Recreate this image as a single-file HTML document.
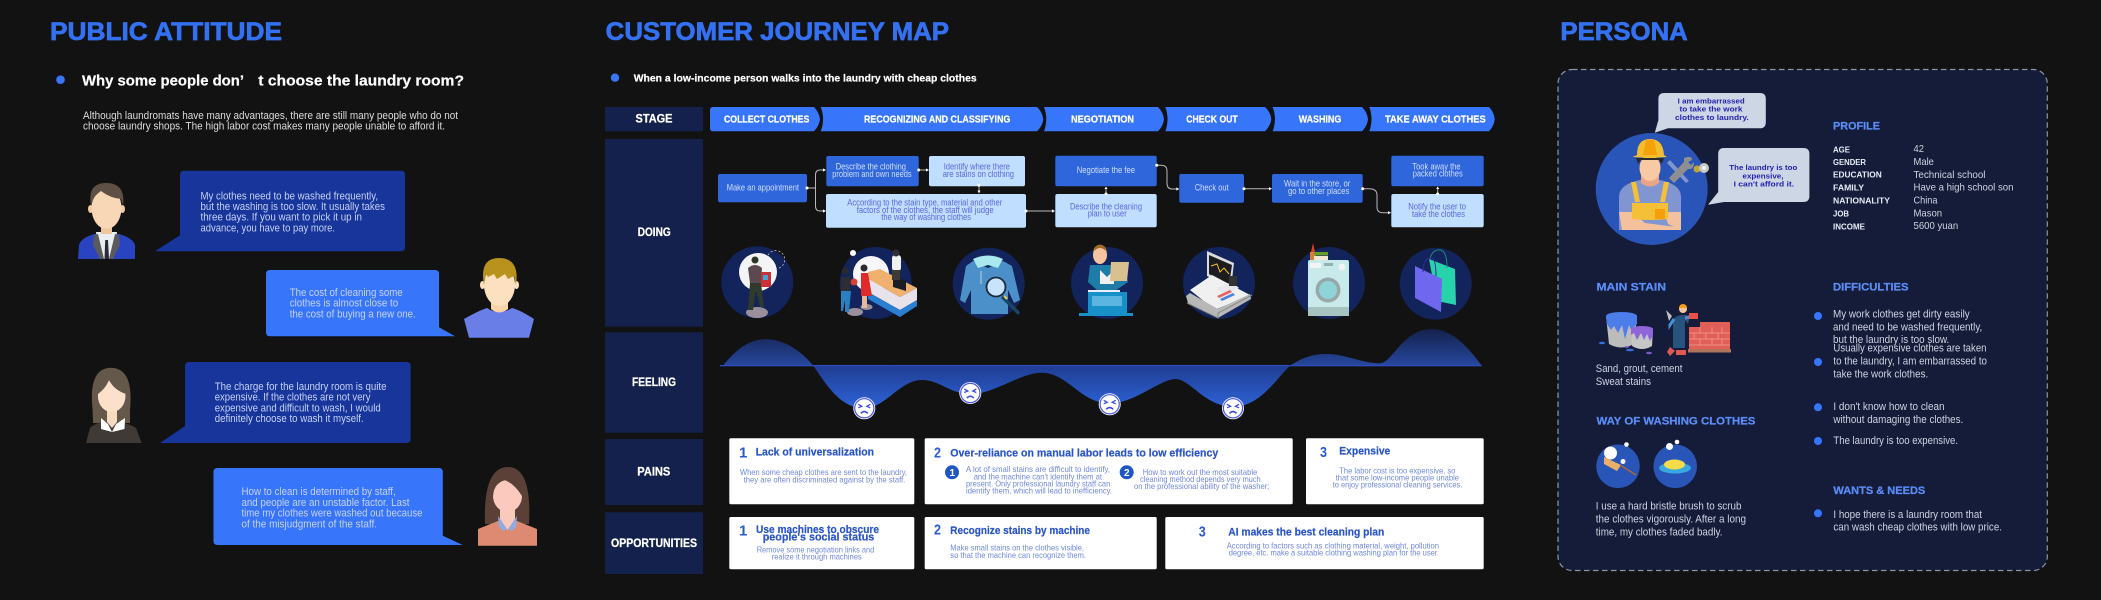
<!DOCTYPE html>
<html><head><meta charset="utf-8"><style>
html,body{margin:0;padding:0;background:#121212;width:2101px;height:600px;overflow:hidden}
svg{display:block}
text{font-family:"Liberation Sans",sans-serif}
.h{font-weight:700;font-size:25px;fill:#3371f2;stroke:#3371f2;stroke-width:.7px}
.hd{font-weight:700;font-size:15px;fill:#fff;stroke:#fff;stroke-width:.2px}
.p{font-size:11px;fill:#dcdcdc}
.bt{font-size:11.2px;fill:#c6d2f4}
.st{font-weight:700;font-size:10.5px;fill:#fff;stroke:#fff;stroke-width:.25px}
.lb{font-weight:700;font-size:11.5px;fill:#fff;stroke:#fff;stroke-width:.25px}
.fw{font-size:8.8px;fill:#d0def9}
.fl{font-size:8.8px;fill:#5c68dc}
.ct{font-weight:700;font-size:11px;fill:#2a55c8;stroke:#2a55c8;stroke-width:.2px}
.num{font-weight:700;font-size:15px;fill:#2a5ad0}
.cb{font-size:8.2px;fill:#7088dc}
.pl{font-weight:700;font-size:11px;fill:#5c8cf6;stroke:#5c8cf6;stroke-width:.25px}
.pk{font-weight:700;font-size:8px;fill:#e8ecf6}
.pv{font-size:10.4px;fill:#cfd3e0}
.pb{font-size:11px;fill:#cfd3e0}
.sb{font-weight:700;font-size:7.6px;fill:#2222b0}
</style></head><body>
<svg width="2101" height="600" viewBox="0 0 2101 600" xmlns="http://www.w3.org/2000/svg">
<defs>
<linearGradient id="gu" x1="0" y1="329" x2="0" y2="366" gradientUnits="userSpaceOnUse"><stop offset="0" stop-color="#14214c"/><stop offset="1" stop-color="#27489f"/></linearGradient>
<linearGradient id="gd" x1="0" y1="366" x2="0" y2="408" gradientUnits="userSpaceOnUse"><stop offset="0" stop-color="#1f3d92"/><stop offset="1" stop-color="#2e63d8"/></linearGradient>
<clipPath id="ca"><rect x="700" y="320" width="800" height="45.7"/></clipPath>
<clipPath id="cb"><rect x="700" y="365.7" width="800" height="60"/></clipPath>
<g id="face">
<circle r="11" fill="#fff"/><circle r="9.6" fill="none" stroke="#4a55e8" stroke-width="1.2"/>
<path d="M-6,-4 L-2.5,-2 L-6,-0.5 M6,-4 L2.5,-2 L6,-0.5" fill="none" stroke="#3d49d8" stroke-width="1.3"/>
<path d="M-3.5,5 Q0,1.5 3.5,5" fill="none" stroke="#3d49d8" stroke-width="1.5"/>
</g>
<path id="ar" d="M-3,-1.6 L0,0 L-3,1.6 Z" fill="#fff"/>
</defs>
<rect width="2101" height="600" fill="#121212"/>

<!-- PUBLIC ATTITUDE -->
<text class="h" x="50" y="40" textLength="232" lengthAdjust="spacingAndGlyphs">PUBLIC ATTITUDE</text>
<circle cx="60.5" cy="79.7" r="4.3" fill="#3775fb"/>
<text class="hd" x="82" y="85.3" textLength="162" lengthAdjust="spacingAndGlyphs">Why some people don’</text>
<text class="hd" x="258.3" y="85.3" textLength="205.7" lengthAdjust="spacingAndGlyphs">t choose the laundry room?</text>
<text class="p" x="83" y="119" textLength="375" lengthAdjust="spacingAndGlyphs">Although laundromats have many advantages, there are still many people who do not</text>
<text class="p" x="83" y="129.5" textLength="362" lengthAdjust="spacingAndGlyphs">choose laundry shops. The high labor cost makes many people unable to afford it.</text>

<path d="M184,170.7 H401 Q405,170.7 405,174.7 V247.3 Q405,251.3 401,251.3 H155 L180,235.3 V174.7 Q180,170.7 184,170.7 Z" fill="#17359a"/>
<text class="bt" x="200.5" y="199.3" textLength="177.5" lengthAdjust="spacingAndGlyphs">My clothes need to be washed frequently,</text>
<text class="bt" x="200.5" y="210" textLength="184.5" lengthAdjust="spacingAndGlyphs">but the washing is too slow. It usually takes</text>
<text class="bt" x="200.5" y="220.7" textLength="161.5" lengthAdjust="spacingAndGlyphs">three days. If you want to pick it up in</text>
<text class="bt" x="200.5" y="231.3" textLength="134.5" lengthAdjust="spacingAndGlyphs">advance, you have to pay more.</text>

<path d="M270,270 H435 Q439,270 439,274 V327.3 L455,336.3 H270 Q266,336.3 266,332.3 V274 Q266,270 270,270 Z" fill="#3775fb"/>
<text class="bt" x="289.7" y="296" textLength="113" lengthAdjust="spacingAndGlyphs">The cost of cleaning some</text>
<text class="bt" x="289.7" y="306.7" textLength="108.5" lengthAdjust="spacingAndGlyphs">clothes is almost close to</text>
<text class="bt" x="289.7" y="317.3" textLength="126" lengthAdjust="spacingAndGlyphs">the cost of buying a new one.</text>

<path d="M189,362 H406.6 Q410.6,362 410.6,366 V439 Q410.6,443 406.6,443 H160 L185,426 V366 Q185,362 189,362 Z" fill="#17359a"/>
<text class="bt" x="214.7" y="390" textLength="171.8" lengthAdjust="spacingAndGlyphs">The charge for the laundry room is quite</text>
<text class="bt" x="214.7" y="400.7" textLength="155.8" lengthAdjust="spacingAndGlyphs">expensive. If the clothes are not very</text>
<text class="bt" x="214.7" y="411.3" textLength="166" lengthAdjust="spacingAndGlyphs">expensive and difficult to wash, I would</text>
<text class="bt" x="214.7" y="422" textLength="149" lengthAdjust="spacingAndGlyphs">definitely choose to wash it myself.</text>

<path d="M217.5,468 H438.8 Q442.8,468 442.8,472 V535.7 L462.7,545 H217.5 Q213.5,545 213.5,541 V472 Q213.5,468 217.5,468 Z" fill="#3775fb"/>
<text class="bt" x="241.5" y="495" textLength="154.2" lengthAdjust="spacingAndGlyphs">How to clean is determined by staff,</text>
<text class="bt" x="241.5" y="506" textLength="168" lengthAdjust="spacingAndGlyphs">and people are an unstable factor. Last</text>
<text class="bt" x="241.5" y="516.7" textLength="181" lengthAdjust="spacingAndGlyphs">time my clothes were washed out because</text>
<text class="bt" x="241.5" y="527.3" textLength="135.5" lengthAdjust="spacingAndGlyphs">of the misjudgment of the staff.</text>

<!-- person 1 -->
<path d="M78,259 L79,245 Q81,238 94,234 H119 Q133,238 135,245 V259 Z" fill="#2a43c0"/>
<path d="M96,232 H117 L113,259 H100 Z" fill="#e8eef2"/>
<path d="M94,235 L98,234 L104,259 H100 L93,245 Z M119,235 L115,234 L109,259 H113 L120,245 Z" fill="#5a5a5e"/>
<path d="M105.2,240 H108 L109,259 H104.5 Z" fill="#2a2a36"/>
<rect x="101" y="222" width="11" height="12" fill="#efc6a0"/>
<ellipse cx="90.5" cy="209" rx="2.5" ry="4" fill="#f2c9a5"/><ellipse cx="122.5" cy="209" rx="2.5" ry="4" fill="#f2c9a5"/>
<ellipse cx="106.5" cy="208" rx="15" ry="21" fill="#f7d7b5"/>
<path d="M91,206 Q87,183 106,183 Q126,183 123,206 L121,199 Q110,198 101,191 Q95,195 93,200 Z" fill="#5e5044"/>
<!-- person 2 -->
<path d="M464,319 Q480,310 487,308 Q499,316 512,308 Q520,310 534,319 L529,337.7 H469 Z" fill="#6a7ee8"/>
<path d="M491,300 H508 V309 Q499,316 491,309 Z" fill="#f8d4a8"/>
<ellipse cx="482.5" cy="285" rx="2.5" ry="4" fill="#fde0bf"/><ellipse cx="516.5" cy="285" rx="2.5" ry="4" fill="#fde0bf"/>
<ellipse cx="499.5" cy="285" rx="15.500" ry="21" fill="#fde0bf"/>
<path d="M484,285 Q479,258 499,258 Q520,258 516,285 L514,276 L508,279 L505,274 L497,279 L494,274 L488,277 L486,274 Z" fill="#b8921c"/>
<!-- person 3 -->
<path d="M92.6,410 Q88,368 111,367.7 Q134,368 130,410 L130,423 H93 Z" fill="#64584a"/>
<path d="M86,443 L90,428 Q95,423 104,421.7 H118 Q128,423 136,428 L141.6,443 Z" fill="#3f3a36"/>
<path d="M107,408 H117 V422 L112,428 L107,422 Z" fill="#f7d9c0"/>
<path d="M101,418 L108,424 L112,432 L116,424 L125,418 L124.500,429 L112,432 L101,429 Z" fill="#fff"/>
<ellipse cx="111.700" cy="396" rx="13.800" ry="16" fill="#fde0cb"/>
<path d="M98,394 Q106,388 109,380 Q114,390 126,394 Q128,376 111,373 Q96,376 98,394 Z" fill="#64584a"/>
<!-- person 4 -->
<path d="M485,524 Q483,467 508,467 Q532,467 529,524 Z" fill="#5a4036"/>
<path d="M478,545.700 V529 L498,521 H517 L537,529 V545.700 Z" fill="#de8a72"/>
<path d="M500,508 H515 V519 L507.500,530 L500,519 Z" fill="#f9c9bc"/>
<path d="M498,516 L507,529 L503,531 L499,527 Z M517,516 L508,529 L512,531 L516,527 Z" fill="#8fabe0"/>
<ellipse cx="507.500" cy="496" rx="14.500" ry="16" fill="#fbc9bd"/>
<path d="M493,496 Q494,483 504,480 Q514,483 522,496 Q524,472 507,472 Q490,473 493,496 Z" fill="#5a4036"/>

<!-- CUSTOMER JOURNEY MAP -->
<text class="h" x="605.700" y="40" textLength="343.300" lengthAdjust="spacingAndGlyphs">CUSTOMER JOURNEY MAP</text>
<circle cx="615" cy="77.700" r="4.200" fill="#3775fb"/>
<text class="hd" style="font-size:10.500px" x="633.700" y="81.300" textLength="343" lengthAdjust="spacingAndGlyphs">When a low-income person walks into the laundry with cheap clothes</text>

<rect x="605" y="107" width="98" height="24.300" fill="#14214c"/>
<rect x="605" y="139" width="98" height="187.700" fill="#14214c"/>
<rect x="605" y="332.300" width="98" height="100.400" fill="#14214c"/>
<rect x="605" y="439" width="98" height="66" fill="#14214c"/>
<rect x="605" y="512.300" width="98" height="61.700" fill="#14214c"/>
<text class="lb" x="635.500" y="122.700" textLength="37" lengthAdjust="spacingAndGlyphs">STAGE</text>
<text class="lb" x="637.700" y="236" textLength="33" lengthAdjust="spacingAndGlyphs">DOING</text>
<text class="lb" x="632" y="386" textLength="44" lengthAdjust="spacingAndGlyphs">FEELING</text>
<text class="lb" x="637.300" y="475.700" textLength="33" lengthAdjust="spacingAndGlyphs">PAINS</text>
<text class="lb" x="611" y="547" textLength="86" lengthAdjust="spacingAndGlyphs">OPPORTUNITIES</text>

<g fill="#3775fb">
<path d="M713,107 H814 Q819,112 820,119.200 Q819,126 814,131.300 H713 Q710,131.300 710,128.300 V110 Q710,107 713,107 Z"/>
<path d="M820.700,107 H1037 Q1042.500,112 1043.300,119.200 Q1042.500,126 1037,131.300 H820.700 Q825.500,119.200 820.700,107 Z"/>
<path d="M1044,107 H1158 Q1163.200,112 1164,119.200 Q1163.200,126 1158,131.300 H1044 Q1048.500,119.200 1044,107 Z"/>
<path d="M1165.300,107 H1265 Q1270.500,112 1271.300,119.200 Q1270.500,126 1265,131.300 H1165.300 Q1169.800,119.200 1165.300,107 Z"/>
<path d="M1272.700,107 H1362 Q1367.200,112 1368,119.200 Q1367.200,126 1362,131.300 H1272.700 Q1277.200,119.200 1272.700,107 Z"/>
<path d="M1369.300,107 H1489 Q1494,112 1494.700,119.200 Q1494,126 1489,131.300 H1369.300 Q1373.800,119.200 1369.300,107 Z"/>
</g>
<text class="st" x="724" y="122.300" textLength="85.300" lengthAdjust="spacingAndGlyphs">COLLECT CLOTHES</text>
<text class="st" x="864" y="122.300" textLength="146.300" lengthAdjust="spacingAndGlyphs">RECOGNIZING AND CLASSIFYING</text>
<text class="st" x="1071" y="122.300" textLength="63" lengthAdjust="spacingAndGlyphs">NEGOTIATION</text>
<text class="st" x="1186.300" y="122.300" textLength="51.400" lengthAdjust="spacingAndGlyphs">CHECK OUT</text>
<text class="st" x="1298.700" y="122.300" textLength="42.600" lengthAdjust="spacingAndGlyphs">WASHING</text>
<text class="st" x="1385" y="122.300" textLength="100.700" lengthAdjust="spacingAndGlyphs">TAKE AWAY CLOTHES</text>

<!-- flow boxes -->
<g fill="#2f66dc">
<rect x="718" y="174" width="89" height="28.300" rx="2"/>
<rect x="826.300" y="156" width="92.400" height="30.300" rx="2"/>
<rect x="1055.300" y="155.700" width="101.400" height="30.600" rx="2"/>
<rect x="1179.300" y="174" width="64.700" height="28.700" rx="2"/>
<rect x="1272" y="174" width="90.700" height="28.700" rx="2"/>
<rect x="1391.300" y="155.700" width="92.400" height="30.600" rx="2"/>
</g>
<g fill="#c0deff">
<rect x="929" y="156" width="96" height="30.300" rx="2"/>
<rect x="826" y="194" width="200" height="33.700" rx="2"/>
<rect x="1055.300" y="194" width="101.400" height="33.300" rx="2"/>
<rect x="1391.300" y="194" width="92.400" height="33.300" rx="2"/>
</g>
<text class="fw" x="726.700" y="190.300" textLength="72.300" lengthAdjust="spacingAndGlyphs">Make an appointment</text>
<text class="fw" x="835.700" y="169.700" textLength="70.300" lengthAdjust="spacingAndGlyphs">Describe the clothing</text>
<text class="fw" x="832.300" y="177" textLength="79.300" lengthAdjust="spacingAndGlyphs">problem and own needs</text>
<text class="fl" x="943.700" y="169.700" textLength="66.300" lengthAdjust="spacingAndGlyphs">Identify where there</text>
<text class="fl" x="942.700" y="177" textLength="71.300" lengthAdjust="spacingAndGlyphs">are stains on clothing</text>
<text class="fl" x="847.300" y="205.700" textLength="155" lengthAdjust="spacingAndGlyphs">According to the stain type, material and other</text>
<text class="fl" x="856.700" y="213" textLength="137" lengthAdjust="spacingAndGlyphs">factors of the clothes, the staff will judge</text>
<text class="fl" x="881.300" y="220" textLength="89.700" lengthAdjust="spacingAndGlyphs">the way of washing clothes</text>
<text class="fw" x="1076.700" y="173" textLength="58.300" lengthAdjust="spacingAndGlyphs">Negotiate the fee</text>
<text class="fl" x="1070" y="209.300" textLength="72" lengthAdjust="spacingAndGlyphs">Describe the cleaning</text>
<text class="fl" x="1087.700" y="216.700" textLength="39" lengthAdjust="spacingAndGlyphs">plan to user</text>
<text class="fw" x="1194.700" y="190.700" textLength="34" lengthAdjust="spacingAndGlyphs">Check out</text>
<text class="fw" x="1284" y="186.700" textLength="66.300" lengthAdjust="spacingAndGlyphs">Wait in the store, or</text>
<text class="fw" x="1288" y="194" textLength="61.300" lengthAdjust="spacingAndGlyphs">go to other places</text>
<text class="fw" x="1412.300" y="169.300" textLength="48.300" lengthAdjust="spacingAndGlyphs">Took away the</text>
<text class="fw" x="1412.700" y="176.700" textLength="50" lengthAdjust="spacingAndGlyphs">packed clothes</text>
<text class="fl" x="1408.300" y="209.700" textLength="57.700" lengthAdjust="spacingAndGlyphs">Notify the user to</text>
<text class="fl" x="1412" y="217" textLength="53" lengthAdjust="spacingAndGlyphs">take the clothes</text>

<!-- connectors -->
<g fill="none" stroke="#b8b8b8" stroke-width="1">
<path d="M807,188 H815.500 M823,170 H820 Q815.500,170 815.500,175 V206 Q815.500,211 820,211 H823"/>
<path d="M918.700,170 H927"/>
<path d="M979,185 V192"/>
<path d="M1026,211 H1053"/>
<path d="M1106,194 V188"/>
<path d="M1156.700,165.300 H1161 Q1167,165.300 1167,171 V183 Q1167,189 1172,189 H1177"/>
<path d="M1244,188.700 H1270"/>
<path d="M1362.700,188.700 H1369 Q1377,188.700 1377,195 V207 Q1377,212.700 1383,212.700 H1389"/>
<path d="M1437.700,194 V188"/>
</g>
<g fill="#fff">
<circle cx="807" cy="188" r="1.500"/><circle cx="918.700" cy="170" r="1.500"/><circle cx="979" cy="185.300" r="1.500"/><circle cx="1026" cy="211" r="1.500"/><circle cx="1106" cy="194" r="1.500"/><circle cx="1156.700" cy="165.300" r="1.500"/><circle cx="1244" cy="188.700" r="1.500"/><circle cx="1362.700" cy="188.700" r="1.500"/><circle cx="1437.700" cy="194" r="1.500"/>
</g>
<use href="#ar" x="826" y="170"/><use href="#ar" x="826" y="211"/><use href="#ar" x="929" y="170"/><use href="#ar" x="1055" y="211"/><use href="#ar" x="1179.300" y="189"/><use href="#ar" x="1272" y="188.700"/><use href="#ar" x="1391" y="212.700"/>
<path d="M977.500,190.500 L979,193.500 L980.500,190.500 Z M1104.500,189 L1106,186.500 L1107.500,189 Z M1436.200,189 L1437.700,186.500 L1439.200,189 Z" fill="#fff"/>

<!-- journey icons -->
<g fill="#13235c"><circle cx="757.300" cy="282.300" r="36"/><circle cx="875.700" cy="283" r="36"/><circle cx="988.700" cy="283.700" r="36"/><circle cx="1107" cy="283" r="36"/><circle cx="1219" cy="283" r="36"/><circle cx="1329" cy="283" r="36"/><circle cx="1435.700" cy="283.700" r="36"/></g>
<!-- icon 1 -->
<circle cx="758" cy="272" r="19" fill="#f4f4f6"/>
<path d="M768,255 A9,9 0 1 1 779,268 L780,268" fill="none" stroke="#c8c8c8" stroke-width="0.800" stroke-dasharray="2 2"/>
<ellipse cx="757" cy="312.500" rx="11" ry="5.500" fill="#9b8f9b"/>
<circle cx="755" cy="260" r="3.500" fill="#2e3528"/>
<path d="M748,268 Q755,262 762,268 L761,283 H750 Z" fill="#5a4a4f"/>
<path d="M750,283 H761 L764,307 H760 L756,290 L753,310 H748 Z" fill="#2e3a2c"/>
<rect x="761" y="272" width="10" height="15" fill="#c8303a"/><rect x="763" y="275" width="5" height="5" fill="#3fa5d8"/>
<!-- icon 2 -->
<circle cx="853" cy="253" r="3" fill="#fff"/>
<circle cx="871" cy="274" r="18" fill="#f6f6f8"/>
<path d="M868,272 L880,269 L917,288 L900,297 L868,279 Z" fill="#f0b070"/>
<path d="M868,279 L900,297 L917,288 V300 L900,310 L868,292 Z" fill="#e8e2ea"/>
<path d="M868,292 L900,310 L917,300 V306 L900,317 L868,299 Z" fill="#2a7fd0"/>
<path d="M893,278 L906,280 V291 L893,287 Z" fill="#1c1c24"/>
<rect x="892" y="255" width="9" height="16" rx="3" fill="#f0f0f0"/><circle cx="896" cy="253" r="3.500" fill="#2e2e34"/><rect x="892" y="270" width="8" height="10" fill="#3c3c34"/>
<ellipse cx="855" cy="312" rx="8" ry="4" fill="#9b8f9b"/><ellipse cx="866.500" cy="307" rx="6" ry="3" fill="#9b8f9b"/>
<rect x="841" y="277" width="9" height="14" fill="#2d2d33"/><circle cx="845.500" cy="271" r="3.500" fill="#2a2a2e"/>
<path d="M841,291 H851 L849,312 H845 L845,300 L843,311 H841 Z" fill="#2a7fc4"/>
<circle cx="854" cy="282" r="3.500" fill="#d84030"/>
<circle cx="864" cy="268" r="3.500" fill="#2a2a2e"/><path d="M861,273 H868 L872,296 H861 Z" fill="#e02a2a"/><rect x="862" y="296" width="5" height="12" fill="#e6b8a0"/>
<!-- icon 3 -->
<path d="M973,261 L988,268 L1003,261 L1012,266 L1020,300 L1014,303 L1008,290 V314 H971 V290 L965,303 L960,300 L966,266 Z" fill="#4b90c8"/>
<path d="M973,259 Q988,252 1003,259 L998,268 L988,265 L978,268 Z" fill="#a8e8ee"/>
<circle cx="996" cy="287" r="9.500" fill="#c8e4fa" stroke="#1c2a3c" stroke-width="1.800"/>
<path d="M1003,295 L1020,312 L1018,315 L1001,298 Z" fill="#1a4568"/><path d="M1004,296 L1007,299" stroke="#e8c84a" stroke-width="2"/>
<path d="M981,271 V284" stroke="#d0e8ee" stroke-width="0.800"/>
<!-- icon 4 -->
<path d="M1090,265 H1124 L1128,282 L1115,291 H1098 L1088,282 Z" fill="#1e7ca8"/>
<path d="M1100,270 L1107,277 L1114,270 V284 H1100 Z" fill="#f0f0f0"/>
<ellipse cx="1100" cy="255" rx="7" ry="9" fill="#f5c4a0"/><path d="M1093,252 Q1100,244 1107,252 L1106,248 Q1100,241 1094,248 Z" fill="#a06a2c"/>
<path d="M1111,262 H1129 L1127,281 H1110 Z" fill="#d8c090"/>
<rect x="1088" y="292" width="39" height="24" fill="#1890c8"/>
<rect x="1079" y="313" width="54" height="3" fill="#1890c8"/>
<rect x="1088" y="290" width="32" height="2" fill="#eef"/>
<rect x="1092" y="296" width="30" height="10" fill="#5cb4e0"/>
<!-- icon 5 -->
<path d="M1207,251 L1234,263 L1231,288 L1207,276 Z" fill="#dcdcdc"/><path d="M1209,255 L1232,265 L1229,285 L1209,274 Z" fill="#1c1c20"/>
<path d="M1211,266 L1217,264 L1220,272 L1224,268 L1229,274" fill="none" stroke="#f0c020" stroke-width="1"/>
<path d="M1190,290 L1212,275 L1250,295 L1215,310 Z" fill="#f0f0f0"/>
<path d="M1186,296 L1190,293 L1218,309 L1250,294 L1251,299 L1218,318 L1188,303 Z" fill="#b8b8b8"/>
<path d="M1187,303 L1218,318 V313 L1252,295" fill="none" stroke="#8a8a8a" stroke-width="1"/>
<path d="M1217,288 L1232,282 L1239,288 L1224,294 Z" fill="#e8e8ec"/><rect x="1229" y="276" width="8" height="10" fill="#333"/>
<path d="M1217,296 L1230,290 L1232,292 L1219,298 Z" fill="#e86060"/><path d="M1220,299 L1233,293 L1235,295 L1222,301 Z" fill="#4a80e0"/>
<!-- icon 6 -->
<rect x="1308" y="260" width="41" height="56" rx="2" fill="#c8eaea"/>
<rect x="1308" y="307" width="41" height="9" fill="#a8c4c0"/>
<rect x="1310" y="263" width="11" height="5" fill="#f4f4f4"/><rect x="1324" y="263" width="9" height="3" fill="#94b0b0"/><circle cx="1342" cy="267" r="3.500" fill="#f0f4f4"/>
<circle cx="1328" cy="290" r="12.500" fill="#98a8a8"/><circle cx="1328" cy="290" r="9" fill="#8ed4d8"/>
<rect x="1310" y="252" width="6" height="8" fill="#d87c3c"/><path d="M1311,252 L1313,243 L1315,252 Z" fill="#d0452a"/>
<rect x="1314" y="252" width="14" height="3.500" fill="#6a9c28"/><rect x="1314" y="256" width="14" height="4" fill="#f0e8d0"/>
<!-- icon 7 -->
<path d="M1429,259 L1455,269 L1456,305 L1437,301 Z" fill="#28d2aa"/>
<path d="M1430,259 Q1432,249 1441,250 Q1447,252 1447,268" fill="none" stroke="#1a8c78" stroke-width="1"/>
<path d="M1415,266 L1442,279 L1441,312 L1415,298 Z" fill="#6f68ee"/>
<path d="M1423,272 Q1423,258 1431,258 Q1436,258 1436,276" fill="none" stroke="#2d2d9c" stroke-width="1"/>

<!-- feeling -->
<path d="M723,365.700 C740,345 752,339.300 766.700,339.300 C785,339.300 802,352 813.300,365.700 C826,384 840,408.300 864.300,408.300 C885,408.300 900,380 921.700,380 C940,380 950,394 970.300,394 C995,394 1020,372.700 1041.700,372.700 C1068,372.700 1080,403.300 1109.700,403.300 C1135,403.300 1160,379 1175.700,379 C1190,379 1205,406.700 1233,406.700 C1260,406.700 1275,380 1290,365.700 C1302,358 1312,354 1326.700,354 C1345,354 1362,363.300 1380,363.300 C1392,363.300 1403,329 1431.700,329 C1452,329 1468,347 1481.700,365.700 Z" fill="url(#gu)" clip-path="url(#ca)"/>
<path d="M723,365.700 C740,345 752,339.300 766.700,339.300 C785,339.300 802,352 813.300,365.700 C826,384 840,408.300 864.300,408.300 C885,408.300 900,380 921.700,380 C940,380 950,394 970.300,394 C995,394 1020,372.700 1041.700,372.700 C1068,372.700 1080,403.300 1109.700,403.300 C1135,403.300 1160,379 1175.700,379 C1190,379 1205,406.700 1233,406.700 C1260,406.700 1275,380 1290,365.700 C1302,358 1312,354 1326.700,354 C1345,354 1362,363.300 1380,363.300 C1392,363.300 1403,329 1431.700,329 C1452,329 1468,347 1481.700,365.700 Z" fill="url(#gd)" clip-path="url(#cb)"/>
<rect x="720" y="365" width="761.700" height="1.300" fill="#2f4bc0"/>
<use href="#face" x="864.300" y="408.300"/><use href="#face" x="970.300" y="393"/><use href="#face" x="1109.700" y="404.300"/><use href="#face" x="1233" y="408.300"/>

<!-- pains -->
<g fill="#fff">
<rect x="729.300" y="438.300" width="185" height="66" rx="1.500"/>
<rect x="924.700" y="438.300" width="368" height="66" rx="1.500"/>
<rect x="1306" y="438.300" width="177.700" height="66" rx="1.500"/>
<rect x="729.300" y="517" width="185" height="52.300" rx="1.500"/>
<rect x="924.700" y="517" width="232" height="52.300" rx="1.500"/>
<rect x="1165.300" y="517" width="318.400" height="52.300" rx="1.500"/>
</g>
<text class="num" x="739" y="457.700">1</text>
<text class="ct" x="755.700" y="455.700" textLength="118.300" lengthAdjust="spacingAndGlyphs">Lack of universalization</text>
<text class="cb" x="740" y="475" textLength="167" lengthAdjust="spacingAndGlyphs">When some cheap clothes are sent to the laundry,</text>
<text class="cb" x="743.700" y="482.300" textLength="161.600" lengthAdjust="spacingAndGlyphs">they are often discriminated against by the staff.</text>
<text class="num" x="934" y="457.700" textLength="7" lengthAdjust="spacingAndGlyphs">2</text>
<text class="ct" x="950.300" y="456.300" textLength="268" lengthAdjust="spacingAndGlyphs">Over-reliance on manual labor leads to low efficiency</text>
<circle cx="952" cy="472.300" r="7" fill="#1f56c4"/><text x="949.500" y="476" style="font-size:10px;font-weight:700;fill:#fff">1</text>
<text class="cb" x="966" y="472" textLength="144" lengthAdjust="spacingAndGlyphs">A lot of small stains are difficult to identify,</text>
<text class="cb" x="973.700" y="479.300" textLength="128.300" lengthAdjust="spacingAndGlyphs">and the machine can't identify them at</text>
<text class="cb" x="966" y="486.700" textLength="144.300" lengthAdjust="spacingAndGlyphs">present. Only professional laundry staff can</text>
<text class="cb" x="966" y="493.700" textLength="146" lengthAdjust="spacingAndGlyphs">identify them, which will lead to inefficiency.</text>
<circle cx="1126.700" cy="472.300" r="7" fill="#1f56c4"/><text x="1124" y="476" style="font-size:10px;font-weight:700;fill:#fff">2</text>
<text class="cb" x="1142.700" y="475" textLength="114.600" lengthAdjust="spacingAndGlyphs">How to work out the most suitable</text>
<text class="cb" x="1140" y="482" textLength="120.700" lengthAdjust="spacingAndGlyphs">cleaning method depends very much</text>
<text class="cb" x="1134" y="489" textLength="135.300" lengthAdjust="spacingAndGlyphs">on the professional ability of the washer;</text>
<text class="num" x="1320" y="457" textLength="7" lengthAdjust="spacingAndGlyphs">3</text>
<text class="ct" x="1339.300" y="454.300" textLength="51" lengthAdjust="spacingAndGlyphs">Expensive</text>
<text class="cb" x="1339.300" y="473.300" textLength="116" lengthAdjust="spacingAndGlyphs">The labor cost is too expensive, so</text>
<text class="cb" x="1335.700" y="480.700" textLength="123.300" lengthAdjust="spacingAndGlyphs">that some low-income people unable</text>
<text class="cb" x="1332.700" y="487.700" textLength="129.600" lengthAdjust="spacingAndGlyphs">to enjoy professional cleaning services.</text>

<text class="num" x="739" y="535.700">1</text>
<text class="ct" x="756" y="533" textLength="123" lengthAdjust="spacingAndGlyphs">Use machines to obscure</text>
<text class="ct" x="762.700" y="540.300" textLength="111.600" lengthAdjust="spacingAndGlyphs">people's social status</text>
<text class="cb" x="756.700" y="552.300" textLength="117.600" lengthAdjust="spacingAndGlyphs">Remove some negotiation links and</text>
<text class="cb" x="771.700" y="559.300" textLength="90" lengthAdjust="spacingAndGlyphs">realize it through machines</text>
<text class="num" x="934" y="534.300" textLength="7" lengthAdjust="spacingAndGlyphs">2</text>
<text class="ct" x="950.300" y="534" textLength="139.700" lengthAdjust="spacingAndGlyphs">Recognize stains by machine</text>
<text class="cb" x="950.300" y="550.700" textLength="133.700" lengthAdjust="spacingAndGlyphs">Make small stains on the clothes visible,</text>
<text class="cb" x="950.300" y="558" textLength="135.700" lengthAdjust="spacingAndGlyphs">so that the machine can recognize them.</text>
<text class="num" x="1198.700" y="536.700" textLength="7" lengthAdjust="spacingAndGlyphs">3</text>
<text class="ct" x="1228.300" y="535.700" textLength="156" lengthAdjust="spacingAndGlyphs">AI makes the best cleaning plan</text>
<text class="cb" x="1226.700" y="548.700" textLength="212.300" lengthAdjust="spacingAndGlyphs">According to factors such as clothing material, weight, pollution</text>
<text class="cb" x="1228.700" y="555.700" textLength="210.300" lengthAdjust="spacingAndGlyphs">degree, etc. make a suitable clothing washing plan for the user.</text>

<!-- PERSONA -->
<text class="h" x="1560.400" y="40" textLength="127.400" lengthAdjust="spacingAndGlyphs">PERSONA</text>
<rect x="1558" y="69.500" width="489.300" height="501" rx="14" fill="#141c3a" stroke="#90949e" stroke-width="1.200" stroke-dasharray="5.500 3.500"/>

<circle cx="1651.700" cy="189" r="56" fill="#2a55b8"/>
<!-- worker -->
<path d="M1619,230 V196 Q1620,184 1640,180 H1660 Q1680,184 1681,196 V230 Z" fill="#8196d0"/>
<path d="M1619,212 H1632 L1645,223 L1676,227 L1681,230 H1622 Z M1681,212 V230 L1668,224 L1664,212 Z" fill="#f5c09c"/>
<path d="M1641,172 H1659 V183 Q1650,190 1641,183 Z" fill="#e8a686"/>
<ellipse cx="1650" cy="168" rx="10.500" ry="13" fill="#f9c9a4"/>
<path d="M1636,158 H1664 L1662,164 L1659,160 H1641 L1638,164 Z" fill="#2a2a2a"/>
<path d="M1632.500,157 Q1635,156 1637,155 Q1637,139 1650,139 Q1663,139 1664,155 L1667,157 L1650,158 Z" fill="#f2be2e"/>
<path d="M1646,140 H1654 L1657,155 H1643 Z" fill="#f5a10a"/>
<path d="M1631,182 H1636 L1640,202 H1635 Z M1669,182 H1664 L1660,202 H1665 Z" fill="#f3c037"/>
<path d="M1632,203 H1668 V219 Q1650,221 1632,219 Z" fill="#f3c037"/>
<rect x="1655" y="209" width="10" height="10" fill="#f59f0a"/>
<path d="M1670,160 L1689,181 L1686,183 L1667,163 Z" fill="#8196d0"/>
<path d="M1669,178 L1684,162 L1684,158 Q1692,155 1692,160 L1688,162 L1691,165 L1694,162 Q1694,170 1688,169 L1674,183 Z" fill="#8f8f92"/>
<circle cx="1697" cy="169" r="3.500" fill="#c2a52e"/><circle cx="1704" cy="168" r="5" fill="#c8c8c8"/><circle cx="1704" cy="168" r="2" fill="#f0f0f0"/>

<!-- speech -->
<path d="M1664,93 H1760 Q1765.800,93 1765.800,99 V122.300 Q1765.800,128.300 1760,128.300 H1668 L1654.800,132.700 L1658.400,120 V99 Q1658.400,93 1664,93 Z" fill="#cdd6e4"/>
<text class="sb" x="1677.700" y="103.300" textLength="67" lengthAdjust="spacingAndGlyphs">I am embarrassed</text>
<text class="sb" x="1679.500" y="111.700" textLength="63" lengthAdjust="spacingAndGlyphs">to take the work</text>
<text class="sb" x="1675" y="120" textLength="73.700" lengthAdjust="spacingAndGlyphs">clothes to laundry.</text>
<path d="M1724,148 H1803.400 Q1809.400,148 1809.400,154 V196 Q1809.400,202 1803.400,202 H1724 L1708,204.700 L1718.200,192 V154 Q1718.200,148 1724,148 Z" fill="#cdd6e4"/>
<text class="sb" x="1729.300" y="170" textLength="68" lengthAdjust="spacingAndGlyphs">The laundry is too</text>
<text class="sb" x="1742.500" y="178.300" textLength="41" lengthAdjust="spacingAndGlyphs">expensive,</text>
<text class="sb" x="1733.600" y="186.700" textLength="60.500" lengthAdjust="spacingAndGlyphs">I can't afford it.</text>

<text class="pl" x="1833" y="129.700" textLength="47" lengthAdjust="spacingAndGlyphs">PROFILE</text>
<text class="pk" x="1833" y="152.300" textLength="17" lengthAdjust="spacingAndGlyphs">AGE</text>
<text class="pk" x="1833" y="165" textLength="33" lengthAdjust="spacingAndGlyphs">GENDER</text>
<text class="pk" x="1833" y="177.700" textLength="48.700" lengthAdjust="spacingAndGlyphs">EDUCATION</text>
<text class="pk" x="1833" y="190.700" textLength="31" lengthAdjust="spacingAndGlyphs">FAMILY</text>
<text class="pk" x="1833" y="203.700" textLength="57" lengthAdjust="spacingAndGlyphs">NATIONALITY</text>
<text class="pk" x="1833" y="216.300" textLength="16" lengthAdjust="spacingAndGlyphs">JOB</text>
<text class="pk" x="1833" y="229.300" textLength="32" lengthAdjust="spacingAndGlyphs">INCOME</text>
<text class="pv" x="1913.500" y="152" textLength="10.400" lengthAdjust="spacingAndGlyphs">42</text>
<text class="pv" x="1913.500" y="165" textLength="20.400" lengthAdjust="spacingAndGlyphs">Male</text>
<text class="pv" x="1913.500" y="178" textLength="72" lengthAdjust="spacingAndGlyphs">Technical school</text>
<text class="pv" x="1913.500" y="190.700" textLength="100" lengthAdjust="spacingAndGlyphs">Have a high school son</text>
<text class="pv" x="1913.500" y="203.300" textLength="24" lengthAdjust="spacingAndGlyphs">China</text>
<text class="pv" x="1913.500" y="216.300" textLength="28.600" lengthAdjust="spacingAndGlyphs">Mason</text>
<text class="pv" x="1913.500" y="229" textLength="44.700" lengthAdjust="spacingAndGlyphs">5600 yuan</text>

<text class="pl" x="1596.500" y="290.700" textLength="69.500" lengthAdjust="spacingAndGlyphs">MAIN STAIN</text>
<!-- paint -->
<path d="M1606,316 Q1621,310 1637,316 L1634,344 Q1621,351 1609,344 Z" fill="#bcbcbc"/>
<ellipse cx="1621.500" cy="316" rx="15.500" ry="4" fill="#4d7de8"/>
<path d="M1606,316 H1637 V324 L1634,327 L1632,332 L1629,325 L1625,339 L1622,325 L1618,333 L1614,326 L1611,330 L1607,324 Z" fill="#4d7de8"/>
<path d="M1631,329 Q1642,326 1653,329 L1652,346 Q1642,352 1632,346 Z" fill="#c6c6c6"/>
<ellipse cx="1642" cy="329" rx="11" ry="3" fill="#8f66d8"/>
<path d="M1631,329 H1653 V335 L1650,341 L1647,334 L1644,340 L1641,333 L1637,340 L1634,333 L1631,335 Z" fill="#8f66d8"/>
<ellipse cx="1602" cy="343" rx="3" ry="1.300" fill="#3a70d8"/><ellipse cx="1630" cy="350" rx="4" ry="1.300" fill="#3a70d8"/><ellipse cx="1649" cy="353" rx="3" ry="1.200" fill="#7d58c8"/><ellipse cx="1627" cy="347" rx="2" ry="1" fill="#7d58c8"/>
<path d="M1689,327 H1700 V322 H1730 V349 H1689 Z" fill="#e06058"/>
<path d="M1689,333 H1730 M1689,339 H1730 M1689,345 H1730 M1700,327 V333 M1712,327 V333 M1722,327 V333 M1694,333 V339 M1706,333 V339 M1718,333 V339 M1700,339 V345 M1712,339 V345 M1722,339 V345" stroke="#f2a098" stroke-width="0.700" fill="none"/>
<rect x="1688" y="349" width="43" height="3.500" fill="#b0745c"/>
<path d="M1674,318 Q1678,315 1683,315 L1690,315 L1688,324 L1685,320 V348 H1673 V322 Z" fill="#28537c"/>
<path d="M1674,319 L1670,325 L1670,324" stroke="#4a90d8" stroke-width="3" fill="none"/><path d="M1685,318 L1692,317" stroke="#4a90d8" stroke-width="3" fill="none"/>
<rect x="1689" y="313" width="9" height="6" fill="#e8504a"/>
<circle cx="1683" cy="309" r="4" fill="#f0c6a0"/><path d="M1679,308 A4,4 0 0 1 1687,308 Z" fill="#f59c1a"/>
<path d="M1666,310 L1669,321 L1672,316 Z" fill="#c0c0c0"/>
<path d="M1670,347 L1675,351 L1670,356 L1667,352 Z M1676,350 H1686 V355 H1676 Z" fill="#e05852"/>

<text class="pb" x="1595.800" y="372" textLength="86.600" lengthAdjust="spacingAndGlyphs">Sand, grout, cement</text>
<text class="pb" x="1595.800" y="385" textLength="55.200" lengthAdjust="spacingAndGlyphs">Sweat stains</text>

<text class="pl" x="1596.500" y="424.300" textLength="158.900" lengthAdjust="spacingAndGlyphs">WAY OF WASHING CLOTHES</text>
<circle cx="1618" cy="466.300" r="21.800" fill="#2a55b8"/>
<circle cx="1675.200" cy="466.300" r="21.800" fill="#2a55b8"/>
<circle cx="1610.500" cy="453" r="6.500" fill="#fff"/><circle cx="1626.500" cy="444.500" r="2.300" fill="#fff"/><circle cx="1623" cy="461.500" r="2.500" fill="#fff"/>
<path d="M1604,457 L1621,465 L1617,471 L1604,464 Z" fill="#e8b068"/><path d="M1620,465 L1636,475" stroke="#c86a1a" stroke-width="1.200"/>
<ellipse cx="1675" cy="468" rx="16" ry="5.500" fill="#38a8e0"/>
<ellipse cx="1674.500" cy="464.500" rx="10.500" ry="5" fill="#f6dc4a"/>
<circle cx="1669.500" cy="446.500" r="3.500" fill="#fff"/><circle cx="1677" cy="442" r="2.300" fill="#fff"/>

<text class="pb" x="1595.800" y="509.700" textLength="145.600" lengthAdjust="spacingAndGlyphs">I use a hard bristle brush to scrub</text>
<text class="pb" x="1595.800" y="522.700" textLength="150.200" lengthAdjust="spacingAndGlyphs">the clothes vigorously. After a long</text>
<text class="pb" x="1595.800" y="535.300" textLength="126.700" lengthAdjust="spacingAndGlyphs">time, my clothes faded badly.</text>

<text class="pl" x="1833" y="290.700" textLength="75.500" lengthAdjust="spacingAndGlyphs">DIFFICULTIES</text>
<g fill="#3775fb"><circle cx="1818" cy="316" r="4"/><circle cx="1818" cy="362" r="4"/><circle cx="1818" cy="407.300" r="4"/><circle cx="1818" cy="441" r="4"/><circle cx="1818" cy="513.300" r="4"/></g>
<text class="pb" x="1833" y="317.700" textLength="136.700" lengthAdjust="spacingAndGlyphs">My work clothes get dirty easily</text>
<text class="pb" x="1833" y="330.300" textLength="149.200" lengthAdjust="spacingAndGlyphs">and need to be washed frequently,</text>
<text class="pb" x="1833" y="343" textLength="116.300" lengthAdjust="spacingAndGlyphs">but the laundry is too slow.</text>
<text class="pb" x="1833.400" y="351.700" textLength="153.100" lengthAdjust="spacingAndGlyphs">Usually expensive clothes are taken</text>
<text class="pb" x="1833.400" y="364.700" textLength="153.600" lengthAdjust="spacingAndGlyphs">to the laundry, I am embarrassed to</text>
<text class="pb" x="1833.400" y="377.300" textLength="94.800" lengthAdjust="spacingAndGlyphs">take the work clothes.</text>
<text class="pb" x="1833.400" y="410" textLength="111.200" lengthAdjust="spacingAndGlyphs">I don't know how to clean</text>
<text class="pb" x="1833.400" y="423" textLength="129.900" lengthAdjust="spacingAndGlyphs">without damaging the clothes.</text>
<text class="pb" x="1833.400" y="444" textLength="124.600" lengthAdjust="spacingAndGlyphs">The laundry is too expensive.</text>
<text class="pl" x="1833.400" y="494" textLength="91.900" lengthAdjust="spacingAndGlyphs">WANTS &amp; NEEDS</text>
<text class="pb" x="1833.400" y="518" textLength="148.600" lengthAdjust="spacingAndGlyphs">I hope there is a laundry room that</text>
<text class="pb" x="1833.400" y="530.700" textLength="168.600" lengthAdjust="spacingAndGlyphs">can wash cheap clothes with low price.</text>
</svg>
</body></html>
